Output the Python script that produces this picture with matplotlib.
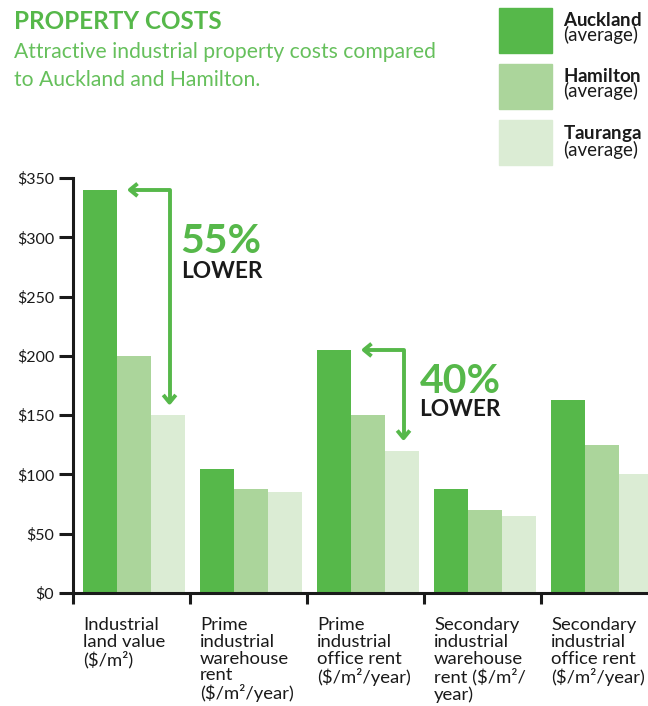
import matplotlib.pyplot as plt
from matplotlib.patches import Rectangle, FancyArrowPatch
from matplotlib.path import Path

plt.rcParams['font.family'] = ['Lato', 'DejaVu Sans']
plt.rcParams['text.parse_math'] = False
plt.rcParams['mathtext.fontset'] = 'custom'
plt.rcParams['mathtext.rm'] = 'Lato'
plt.rcParams['mathtext.bf'] = 'Lato:bold'

# data
categories = ['Industrial\nland value\n($/m²)',
              'Prime\nindustrial\nwarehouse\nrent\n($/m²/year)',
              'Prime\nindustrial\noffice rent\n($/m²/year)',
              'Secondary\nindustrial\nwarehouse\nrent ($/m²/\nyear)',
              'Secondary\nindustrial\noffice rent\n($/m²/year)']
cities = ['Auckland', 'Hamilton', 'Tauranga']
auckland = [340, 105, 205, 88, 163]
hamilton = [200, 88, 150, 70, 125]
tauranga = [150, 85, 120, 65, 100]
yticks = [0, 50, 100, 150, 200, 250, 300, 350]
ytick_labels = ['$0', '$50', '$100', '$150', '$200', '$250', '$300', '$350']
callout_groups = [0, 2]
callout_pcts = ['55%', '40%']

GREEN = '#56b84a'
colors = [GREEN, '#abd59b', '#dbecd4']
DARK = '#1a1a1a'
W, H = 648, 706


def fx(px):
    return px / W


def fy(py):
    return 1 - py / H


fig = plt.figure(figsize=(W / 100, H / 100), dpi=100)

# title + subtitle
fig.text(fx(14), fy(29), 'PROPERTY COSTS', fontsize=17.5, fontweight='bold',
         color=GREEN, va='baseline')
fig.text(fx(14), fy(58), 'Attractive industrial property costs compared',
         fontsize=15.2, color='#66c05c', va='baseline')
fig.text(fx(14), fy(86), 'to Auckland and Hamilton.',
         fontsize=15.2, color='#66c05c', va='baseline')

# legend drawn by hand (bold name + "(average)" as one text)
for i, city in enumerate(cities):
    top = 8 + i * 56
    fig.patches.append(Rectangle((fx(499), fy(top + 45)), 53 / W, 45 / H,
                                 transform=fig.transFigure, color=colors[i]))
    fig.text(fx(563), fy(top + 3), r'$\mathbf{' + city + '}$\n(average)',
             fontsize=13.5, color=DARK, va='top', linespacing=0.82,
             parse_math=True)

# axes (runs off the right edge like the original)
ax = fig.add_axes([fx(73), fy(593), 585 / W, 415 / H])
offsets = [-0.267, 0.024, 0.315]
width = 0.291
x = list(range(len(categories)))
for vals, off, c in zip([auckland, hamilton, tauranga], offsets, colors):
    ax.bar([i + off for i in x], vals, width=width, color=c, linewidth=0)

ax.set_xlim(-0.5, 4.5)
ax.set_ylim(0, 350)
ax.set_yticks(yticks)
ax.set_yticklabels(ytick_labels, fontsize=11.5, color=DARK)
ax.set_xticks([i - 0.5 for i in range(len(categories) + 1)])
ax.set_xticklabels([])
for s in ['top', 'right']:
    ax.spines[s].set_visible(False)
for s in ['left', 'bottom']:
    ax.spines[s].set_linewidth(2.2)
    ax.spines[s].set_color(DARK)
ax.tick_params(axis='y', length=10, width=2.2, color=DARK, pad=3.5)
ax.tick_params(axis='x', length=8, width=2.2, color=DARK)

for i, lab in enumerate(categories):
    ax.text(i - 0.415, -20, lab, fontsize=13.3, color=DARK, va='top',
            ha='left', linespacing=1.07, clip_on=False)

# "xx% LOWER" callouts
text_pos = [(0.42, 287, 266), (0.46, 169, 149)]
for g, pct, (tx, y1, y2) in zip(callout_groups, callout_pcts, text_pos):
    top = auckland[g]
    bot = tauranga[g] + 8
    verts = [(g - 0.04, top), (g + 0.325, top), (g + 0.325, bot)]
    arr = FancyArrowPatch(path=Path(verts),
                          arrowstyle='<->,head_length=5.5,head_width=4.5',
                          color=GREEN, linewidth=2.8, shrinkA=0, shrinkB=0,
                          joinstyle='round', capstyle='butt')
    ax.add_patch(arr)
    ax.text(g + tx, y1, pct, fontsize=29.5, fontweight='bold', color=GREEN,
            va='baseline', ha='left')
    ax.text(g + tx, y2, 'LOWER', fontsize=16.3, fontweight='bold', color=DARK,
            va='baseline', ha='left')

fig.savefig('out.png', dpi=100)
